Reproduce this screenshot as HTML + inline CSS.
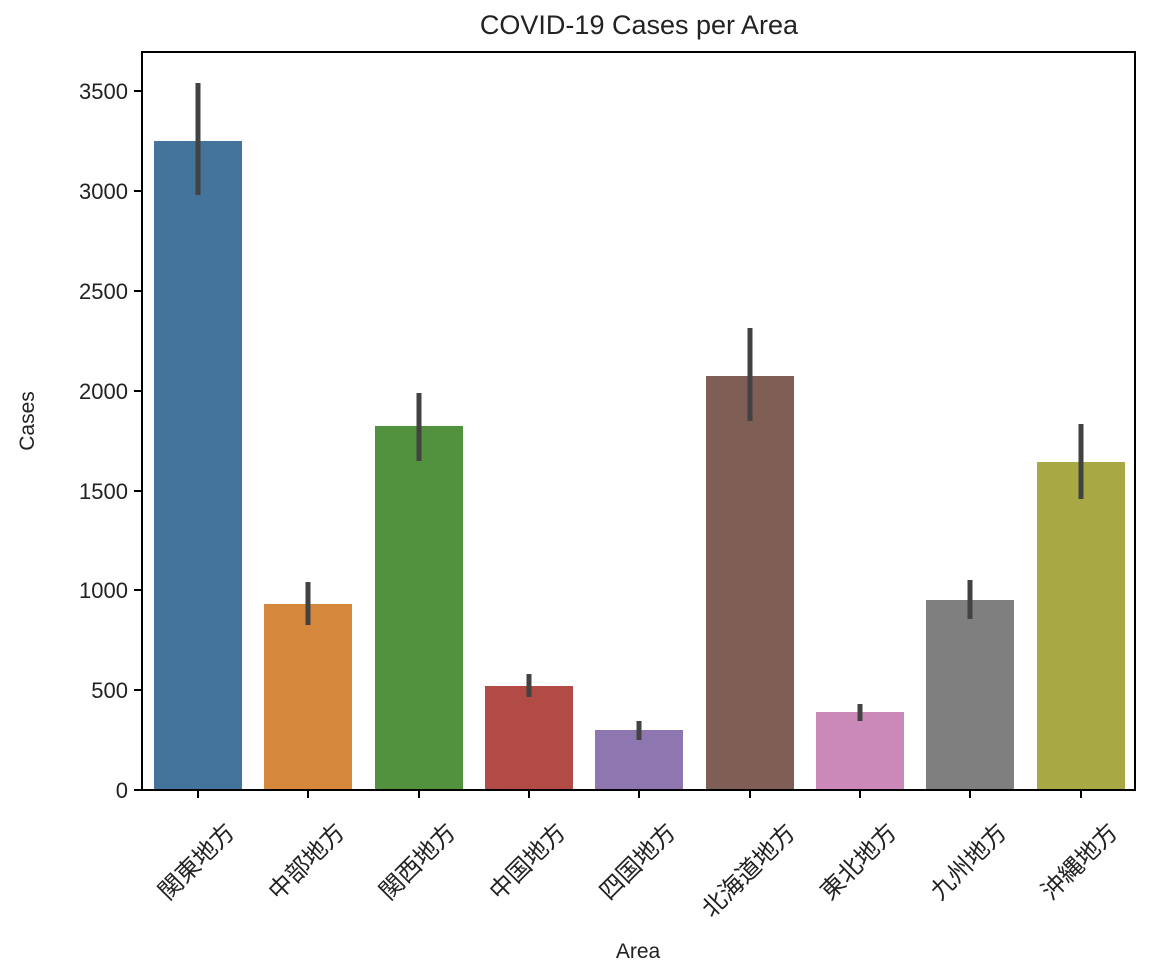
<!DOCTYPE html>
<html><head><meta charset="utf-8"><style>html,body{margin:0;padding:0;background:#fff}</style></head>
<body>
<svg width="1158" height="968" xmlns="http://www.w3.org/2000/svg" font-family="'Liberation Sans','Noto Sans CJK JP',sans-serif" fill="#222">
<text x="639" y="34" font-size="27" text-anchor="middle">COVID-19 Cases per Area</text>
<g>
<rect x="154" y="141" width="88" height="649" fill="#44739c"/>
<rect x="264" y="604" width="88" height="186" fill="#d5883c"/>
<rect x="375" y="426" width="88" height="364" fill="#52923f"/>
<rect x="485" y="686" width="88" height="104" fill="#b24a45"/>
<rect x="595" y="730" width="88" height="60" fill="#8e76b0"/>
<rect x="706" y="376" width="88" height="414" fill="#7f5f55"/>
<rect x="816" y="712" width="88" height="78" fill="#cb89b9"/>
<rect x="926" y="600" width="88" height="190" fill="#7f7f7f"/>
<rect x="1037" y="462" width="88" height="328" fill="#a8a944"/>
</g>
<g stroke="#424242" stroke-width="5">
<line x1="198" y1="83" x2="198" y2="195"/>
<line x1="308" y1="582" x2="308" y2="625"/>
<line x1="419" y1="393" x2="419" y2="461"/>
<line x1="529" y1="674" x2="529" y2="697"/>
<line x1="639" y1="721" x2="639" y2="740"/>
<line x1="750" y1="328" x2="750" y2="421"/>
<line x1="860" y1="704" x2="860" y2="721"/>
<line x1="970" y1="580" x2="970" y2="619"/>
<line x1="1081" y1="424" x2="1081" y2="499"/>
</g>
<rect x="142" y="52" width="993" height="738" fill="none" stroke="#000" stroke-width="2"/>
<g stroke="#000" stroke-width="2">
<line x1="134" y1="790" x2="142" y2="790"/><line x1="134" y1="690" x2="142" y2="690"/>
<line x1="134" y1="590" x2="142" y2="590"/><line x1="134" y1="491" x2="142" y2="491"/>
<line x1="134" y1="391" x2="142" y2="391"/><line x1="134" y1="291" x2="142" y2="291"/>
<line x1="134" y1="191" x2="142" y2="191"/><line x1="134" y1="91" x2="142" y2="91"/>
<line x1="198" y1="790" x2="198" y2="798"/><line x1="308" y1="790" x2="308" y2="798"/>
<line x1="419" y1="790" x2="419" y2="798"/><line x1="529" y1="790" x2="529" y2="798"/>
<line x1="639" y1="790" x2="639" y2="798"/><line x1="750" y1="790" x2="750" y2="798"/>
<line x1="860" y1="790" x2="860" y2="798"/><line x1="970" y1="790" x2="970" y2="798"/>
<line x1="1081" y1="790" x2="1081" y2="798"/>
</g>
<g font-size="22" text-anchor="end">
<text x="128" y="798">0</text><text x="128" y="698">500</text><text x="128" y="598">1000</text>
<text x="128" y="499">1500</text><text x="128" y="399">2000</text><text x="128" y="299">2500</text>
<text x="128" y="199">3000</text><text x="128" y="99">3500</text>
</g>
<text transform="translate(34,421) rotate(-90)" font-size="21" text-anchor="middle">Cases</text>
<text x="638" y="958" font-size="21" text-anchor="middle">Area</text>
<g font-size="24" text-anchor="middle" dominant-baseline="central">
<text transform="translate(197,862) rotate(-45)">関東地方</text>
<text transform="translate(307,862) rotate(-45)">中部地方</text>
<text transform="translate(418,862) rotate(-45)">関西地方</text>
<text transform="translate(528,862) rotate(-45)">中国地方</text>
<text transform="translate(638,862) rotate(-45)">四国地方</text>
<text transform="translate(749,871) rotate(-45)">北海道地方</text>
<text transform="translate(859,862) rotate(-45)">東北地方</text>
<text transform="translate(969,862) rotate(-45)">九州地方</text>
<text transform="translate(1080,862) rotate(-45)">沖縄地方</text>
</g>
</svg>
</body></html>
